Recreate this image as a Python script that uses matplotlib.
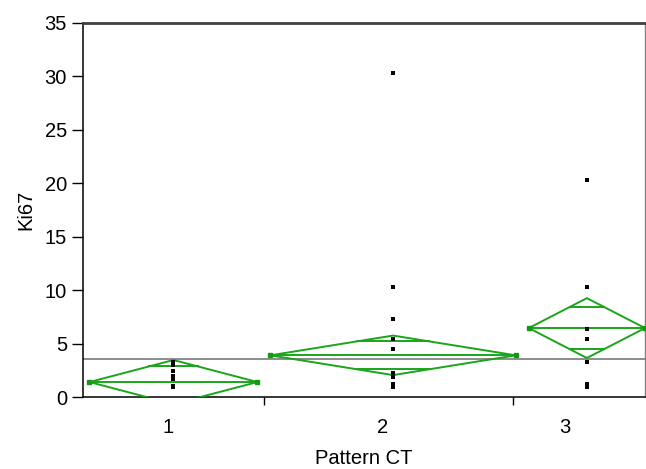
import matplotlib.pyplot as plt
import numpy as np

plt.rcParams['font.family'] = ['Liberation Sans', 'DejaVu Sans']

# Ki67 by Pattern CT (JMP means diamonds)
groups = ["1", "2", "3"]
group_n = [13, 19, 9]            # diamond width follows group size
group_mean = [1.4, 3.9, 6.45]
ci_half = [2.06, 1.85, 2.8]      # 95% CI half width
grand_mean = 3.55

pts_1 = [3.3, 3.0, 2.4, 2.0, 1.7, 1.0, 0.9]
pts_2 = [30.3, 10.3, 7.3, 5.4, 4.5, 2.2, 1.9, 1.2, 0.9]
pts_3 = [20.3, 10.3, 6.4, 5.4, 3.3, 1.2, 0.9]
points = [pts_1, pts_2, pts_3]

green = '#1aa51a'
fs = 14.5

fig = plt.figure(figsize=(6.46, 4.69), dpi=100)
ax = fig.add_axes([0.1285, 0.1535, 0.87, 0.7975])

# layout of groups along x: width = n, one unit gap between
gap = 1.0
starts = []
x = 0.5
for n in group_n:
    starts.append(x)
    x += n + gap
xmax = starts[-1] + group_n[-1]

ax.axhline(grand_mean, color='#8c8c8c', lw=1.4, zorder=2)

for s, n, m, h, pts in zip(starts, group_n, group_mean, ci_half, points):
    c = s + n / 2
    dx = [s, c, s + n, c, s]
    dy = [m, m + h, m, m - h, m]
    ax.plot(dx, dy, color=green, lw=1.4, zorder=3)
    ax.plot([s, s + n], [m, m], color=green, lw=1.4, zorder=3)
    # overlap marks
    k = 1 / np.sqrt(2)
    half_w = n / 2 * (1 - k)
    for yy in (m + h * k, m - h * k):
        ax.plot([c - half_w, c + half_w], [yy, yy], color=green, lw=1.4, zorder=3)
    ax.plot([s, s + n], [m, m], ls='none', marker='s', ms=3.5, color='#139a13', zorder=3)
    ax.scatter([c] * len(pts), pts, s=10, marker='s', color='black', zorder=4, linewidths=0)

ax.set_xlim(0, xmax)
ax.set_ylim(0, 35)
ax.set_yticks(np.arange(0, 36, 5))
ax.tick_params(axis='y', direction='out', length=8, width=1, pad=3.5, labelsize=fs)

# group boundary ticks and group labels
bounds = [starts[i] + group_n[i] + gap / 2 - 0.7 * i for i in range(len(group_n) - 1)]
ax.set_xticks(bounds)
ax.set_xticklabels([])
ax.tick_params(axis='x', which='major', direction='out', length=5.5, width=1)
label_offset = [0.43, 0.85, 1.7]
label_x = [st + n / 2 - off for st, n, off in zip(starts, group_n, label_offset)]
ax.set_xticks(label_x, minor=True)
ax.set_xticklabels(groups, minor=True)
ax.tick_params(axis='x', which='minor', length=0, pad=15, labelsize=fs)

ax.set_xlabel("Pattern CT", fontsize=fs, labelpad=9)
ax.set_ylabel("Ki67", fontsize=fs, labelpad=7)

for side in ('left', 'bottom'):
    ax.spines[side].set_color('black')
    ax.spines[side].set_linewidth(1.1)
ax.spines['top'].set_color('#404040')
ax.spines['top'].set_linewidth(2)
ax.spines['right'].set_color('#808080')
ax.spines['right'].set_linewidth(1)

fig.savefig('out.png', dpi=100)
